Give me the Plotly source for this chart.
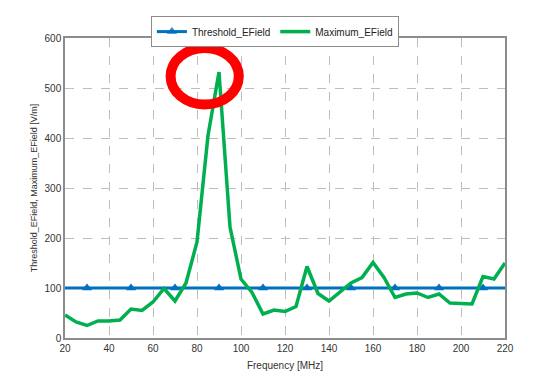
import plotly.graph_objects as go

freq = [20, 25, 30, 35, 40, 45, 50, 55, 60, 65, 70, 75, 80, 85, 90, 95, 100, 105, 110, 115, 120,
        125, 130, 135, 140, 145, 150, 155, 160, 165, 170, 175, 180, 185, 190, 195, 200, 205, 210, 215, 220]
max_efield = [46, 32, 25, 34, 34, 36, 58, 55, 72, 99, 74, 110, 192, 405, 532, 222, 118, 91, 48, 56, 53,
              63, 143, 89, 74, 93, 110, 121, 151, 121, 81, 88, 90, 81, 88, 70, 69, 68, 123, 118, 150]
thresh_freq = [20, 30, 50, 70, 90, 110, 130, 150, 170, 190, 210, 220]
thresh_val = [100] * len(thresh_freq)
thresh_opacity = [0, 1, 1, 1, 1, 1, 1, 1, 1, 1, 1, 0]

x_ticks = [20, 40, 60, 80, 100, 120, 140, 160, 180, 200, 220]
y_ticks = [0, 100, 200, 300, 400, 500, 600]

FONT = "Liberation Sans Narrow, Arial Narrow, Liberation Sans, Arial"

fig = go.Figure()
fig.add_trace(go.Scatter(
    x=thresh_freq, y=thresh_val, name="Threshold_EField",
    mode="lines+markers",
    line=dict(color="#0070C0", width=3),
    marker=dict(symbol="triangle-up", size=9, color="#0070C0", opacity=thresh_opacity,
                line=dict(width=0)),
))
fig.add_trace(go.Scatter(
    x=freq, y=max_efield, name="Maximum_EField",
    mode="lines",
    line=dict(color="#00B050", width=3.5),
))

fig.add_shape(type="circle", xref="x", yref="y",
              x0=68, x1=99, y0=467, y1=580,
              line=dict(color="#FF0000", width=10))

axis_common = dict(
    showline=True, linecolor="#8C8C8C", linewidth=1.5, mirror=True,
    showgrid=True, gridcolor="#BDBDBD", griddash="dash", gridwidth=1,
    ticks="", zeroline=False, automargin=False,
    tickfont=dict(family=FONT, size=10, color="#333333"),
)

fig.update_layout(
    width=525, height=379,
    margin=dict(l=57, r=28, t=30, b=49, autoexpand=False),
    paper_bgcolor="white", plot_bgcolor="white",
    showlegend=True,
    legend=dict(orientation="h", x=0.477, xanchor="center", y=1.073, yanchor="top",
                bordercolor="#8C8C8C", borderwidth=1,
                font=dict(family=FONT, size=10, color="#222222")),
    xaxis=dict(range=[20, 220], tickvals=x_ticks,
               title=dict(text="Frequency [MHz]", standoff=9,
                          font=dict(family=FONT, size=10, color="#333333")), **axis_common),
    yaxis=dict(range=[0, 600], tickvals=y_ticks,
               title=dict(text="Threshold_EField, Maximum_EField [V/m]", standoff=5,
                          font=dict(family=FONT, size=9, color="#333333")), **axis_common),
)

fig.write_html("out.html")
